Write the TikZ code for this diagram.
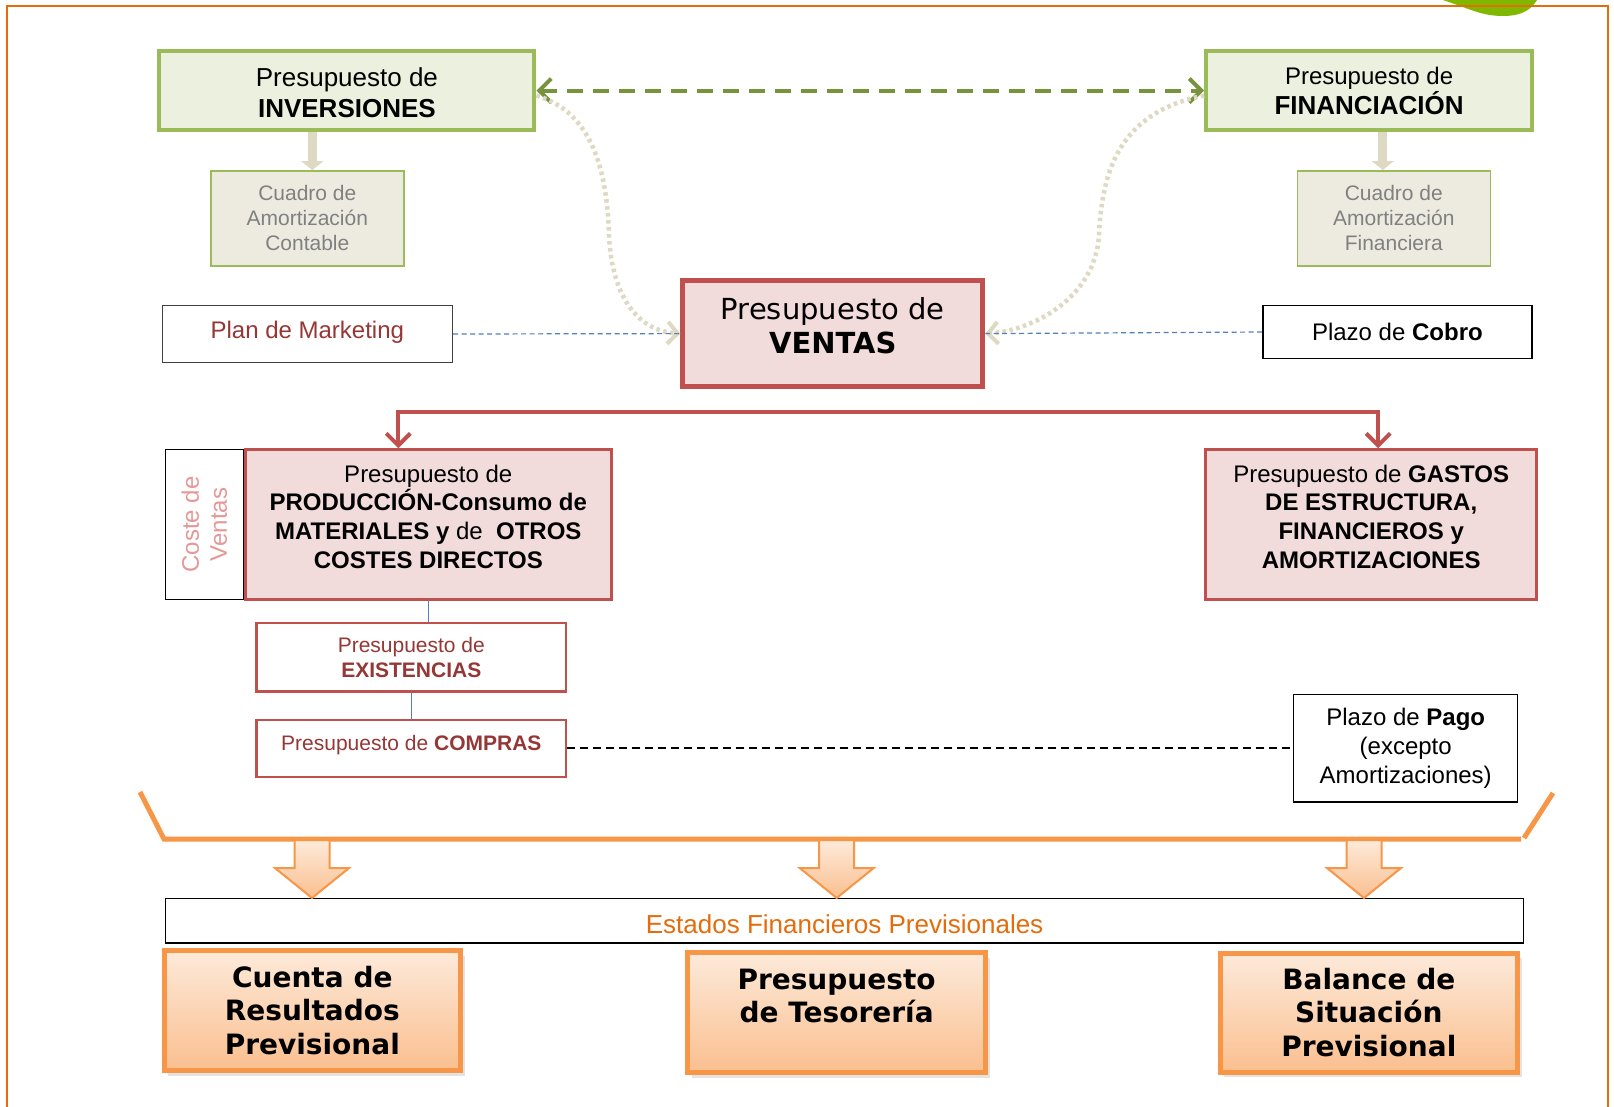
\documentclass[tikz,border=0pt]{standalone}
\usepackage{fontspec}
\setmainfont{Liberation Sans}
\newfontfamily\dvsans{DejaVu Sans}
\usetikzlibrary{arrows.meta,shadows}

\definecolor{frameorange}{RGB}{228,108,10}
\definecolor{leafgreen}{RGB}{128,184,0}
\definecolor{invborder}{RGB}{155,187,89}
\definecolor{invfill}{RGB}{235,241,222}
\definecolor{oliveline}{RGB}{119,147,60}
\definecolor{beige}{RGB}{221,217,195}
\definecolor{beigefill}{RGB}{237,235,224}
\definecolor{greytext}{RGB}{128,128,128}
\definecolor{salesred}{RGB}{192,80,77}
\definecolor{salesfill}{RGB}{242,220,219}
\definecolor{darkred}{RGB}{149,55,53}
\definecolor{linkblue}{RGB}{79,129,189}
\definecolor{pinktext}{RGB}{229,152,150}
\definecolor{accent}{RGB}{247,150,70}
\definecolor{accentlight}{RGB}{253,234,218}
\definecolor{accentdark}{RGB}{250,191,143}
\definecolor{accenttext}{RGB}{228,108,10}
\definecolor{edgegrey}{RGB}{64,64,64}

\begin{document}
\begin{tikzpicture}[x=1pt,y=-1pt,
  box/.style={rectangle, inner sep=0pt, align=center},
  greenbox/.style={box, draw=invborder, fill=invfill, line width=4pt},
  tanbox/.style={box, draw=invborder, fill=beigefill, line width=1.5pt,
    text=greytext, font=\fontsize{21}{25}\selectfont},
  plainbox/.style={box, draw=black, fill=white, line width=1.5pt},
  salesbox/.style={box, draw=salesred, fill=salesfill, line width=2.5pt},
  redframe/.style={box, draw=salesred, fill=white, line width=2.5pt, text=darkred},
  resultbox/.style={box, draw=accent, line width=5pt, top color=accentlight,
    bottom color=accentdark,
    drop shadow={shadow xshift=4pt, shadow yshift=-5pt, opacity=0.22},
    font=\dvsans\bfseries\fontsize{28}{33.5}\selectfont},
  bodytext/.style={align=center, inner sep=0pt, font=\fontsize{24}{28.8}\selectfont},
  greendash/.style={draw=oliveline, line width=4pt, dash pattern=on 16pt off 10pt,
    {Straight Barb[length=12pt,width=24pt]}-{Straight Barb[length=12pt,width=24pt]}},
  beigedots/.style={draw=beige, line width=4.5pt, dash pattern=on 3.5pt off 3.5pt,
    -{Straight Barb[length=10pt,width=22pt,line width=4pt]}},
  beigearrow/.style={draw=beige, line width=9pt,
    -{Triangle[length=9pt,width=22pt]}},
  bluedash/.style={draw=linkblue, line width=1.2pt, dash pattern=on 5pt off 3.5pt},
  bluelink/.style={draw=linkblue, line width=1.5pt},
  redarrow/.style={draw=salesred, line width=4pt,
    {Straight Barb[length=12pt,width=24pt]}-{Straight Barb[length=12pt,width=24pt]}},
  blackdash/.style={draw=black, line width=2pt, dash pattern=on 8pt off 5pt},
  bracket/.style={draw=accent, line width=5pt},
  blockarrow/.style={draw=accent, line width=2pt, top color=accentlight,
    bottom color=accentdark}
]
\useasboundingbox (0,0) rectangle (1614,1106);
\fill[white] (0,0) rectangle (1614,1106);

% leaf in the corner and the page frame
\fill[leafgreen] (1443,0) .. controls (1470,9) and (1482,16) .. (1503,16)
  .. controls (1524,16) and (1532,8) .. (1537,0) -- cycle;
\draw[frameorange, line width=2pt] (7,5.5) rectangle (1608,1130);

% investment and financing budgets
\node[greenbox, minimum width=375pt, minimum height=78.5pt] (inv) at (346.9,90.6) {};
\node[bodytext, font=\fontsize{26}{31}\selectfont] (inv-t) at ([yshift=-2pt]inv.center)
  {Presupuesto de\\\textbf{INVERSIONES}};
\node[greenbox, minimum width=326pt, minimum height=78.5pt,
  font=\fontsize{26}{30}\selectfont] (fin) at (1369.1,90.6)
  {{\fontsize{24}{30}\selectfont Presupuesto de}\\\textbf{FINANCIACIÓN}};

\node[tanbox, minimum width=193pt, minimum height=95pt] (amortc) at (307.3,218.3)
  {Cuadro de\\Amortización\\Contable};
\node[tanbox, minimum width=193pt, minimum height=95pt] (amortf) at (1393.8,218.3)
  {Cuadro de\\Amortización\\Financiera};

\draw[beigearrow] ([xshift=5pt]amortc.north |- inv.south) -- ([xshift=5pt]amortc.north);
\draw[beigearrow] ([xshift=-11pt]amortf.north |- fin.south) -- ([xshift=-11pt]amortf.north);

% sales budget and its inputs
\node[plainbox, draw=edgegrey, minimum width=290pt, minimum height=57pt] (plan) at (307.3,334) {};
\node[bodytext, text=darkred] (plan-t) at ([yshift=1.5pt]plan.center) {Plan de Marketing};

\node[box, draw=salesred, fill=salesfill, line width=5pt, minimum width=300pt,
  minimum height=106pt] (ventas) at (832.8,333.6) {};
\node[bodytext, font=\dvsans\fontsize{29}{34}\selectfont] (ventas-t)
  at ([yshift=7.5pt]ventas.center) {Presupuesto de\\\textbf{VENTAS}};

\node[plainbox, minimum width=269pt, minimum height=53pt, bodytext] (cobro) at (1397.4,332)
  {Plazo de \textbf{Cobro}};

\draw[greendash] (inv.east) -- (fin.west);

\draw[beigedots] ([yshift=-5pt]inv.east) .. controls (592,112) and (607,170) .. (609,235)
  .. controls (612,300) and (640,331) .. (ventas.west);
\draw[beigedots] ([yshift=-5pt]fin.west) .. controls (1120,112) and (1102,170) .. (1099,235)
  .. controls (1095,300) and (1030,331) .. (ventas.east);

\draw[bluedash] (plan.east) -- (ventas.west);
\draw[bluedash] (cobro.west) -- (ventas.east);

% cost budgets
\node[plainbox, rotate=90, minimum width=150pt, minimum height=78pt,
  text=pinktext, font=\fontsize{24}{28}\selectfont] (coste) at (204.4,524.5)
  {Coste de\\Ventas};
\node[salesbox, minimum width=366pt, minimum height=150pt] (prod) at (428.3,524.5) {};
\node[bodytext] (prod-t) at ([yshift=7.7pt]prod.center)
  {Presupuesto de\\\textbf{PRODUCCIÓN-Consumo de}\\\textbf{MATERIALES y} de\ \ \textbf{OTROS}\\\textbf{COSTES DIRECTOS}};

\node[salesbox, minimum width=331pt, minimum height=150pt] (gastos) at (1371.2,524.5) {};
\node[bodytext] (gastos-t) at ([yshift=7.7pt]gastos.center)
  {Presupuesto de \textbf{GASTOS}\\\textbf{DE ESTRUCTURA,}\\\textbf{FINANCIEROS y}\\\textbf{AMORTIZACIONES}};

\draw[redarrow] ([xshift=-30pt]prod.north) -- ++(0,-36) -| ([xshift=7pt]gastos.north);

\node[redframe, minimum width=309.5pt, minimum height=68.6pt,
  font=\fontsize{21}{25.6}\selectfont] (exist) at (411.3,657.3)
  {Presupuesto de\\\textbf{EXISTENCIAS}};
\node[redframe, minimum width=309.5pt, minimum height=57.2pt] (compras) at (411.3,748.4) {};
\node[bodytext, text=darkred, font=\fontsize{21}{25}\selectfont] (compras-t)
  at ([yshift=3pt]compras.center) {Presupuesto de \textbf{COMPRAS}};

\draw[bluelink] (prod.south) -- (prod.south |- exist.north);
\draw[bluelink] (exist.south) -- (compras.north);

\node[plainbox, minimum width=224pt, minimum height=107.5pt, bodytext] (pago) at (1405.7,748.4)
  {Plazo de \textbf{Pago}\\(excepto\\Amortizaciones)};

\draw[blackdash] (compras.east) -- (pago.west);

% bracket gathering everything into the financial statements
\draw[bracket] (140,792) -- (164,839) -- (1521,839);
\draw[bracket] (1524,838) -- (1553,793);

\node[plainbox, minimum width=1358pt, minimum height=44.5pt] (estados) at (844.6,920.5) {};
\node[bodytext, text=accenttext, font=\fontsize{26}{30}\selectfont] (estados-t)
  at ([yshift=-3.5pt]estados.center) {Estados Financieros Previsionales};

\node[resultbox, minimum width=296.4pt, minimum height=120pt] (cuenta) at (312.3,1010.5)
  {Cuenta de\\Resultados\\Previsional};
\node[resultbox, minimum width=298pt, minimum height=120pt] (teso) at (836.6,1012.5)
  {Presupuesto\\de Tesorería\\\mbox{}};
\node[resultbox, minimum width=297.5pt, minimum height=119pt] (balance) at (1368.8,1012.5)
  {Balance de\\Situación\\Previsional};

% block arrows down onto the statements
\foreach \n/\cx in {a1/312, a2/836.7, a3/1364} {
  \coordinate (\n) at (\cx,840);
  \draw[blockarrow] (\n) ++(-17.5,0) -- ++(0,28) -- ++(-19.5,0) -- ++(37,30)
    -- ++(37,-30) -- ++(-19.5,0) -- ++(0,-28) -- cycle;
}
\end{tikzpicture}
\end{document}
